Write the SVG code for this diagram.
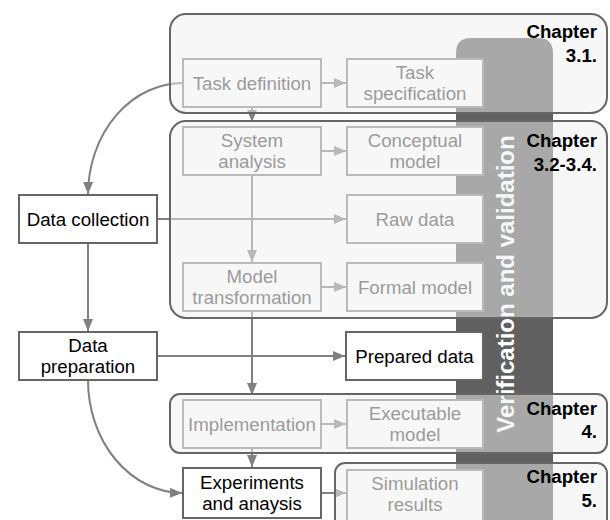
<svg xmlns="http://www.w3.org/2000/svg" width="610" height="520" viewBox="0 0 610 520">
  <style>
    text { font-family: "Liberation Sans", Arial, sans-serif; font-size: 18.7px; text-anchor: middle; }
    .bar { fill: #606060; }
    .vv { font-size: 24px; font-weight: bold; fill: #ffffff; }
    .cn path { fill: none; stroke: #808080; stroke-width: 2; }
    .inner rect { fill: #ffffff; stroke: #858585; stroke-width: 2; }
    .inner text { fill: #444444; }
    .outer rect { fill: #ffffff; stroke: #666666; stroke-width: 2; }
    .outer text { fill: #000000; }
    .chap rect { fill: #efefef; fill-opacity: 0.5; stroke: #666666; stroke-width: 2; }
    .chap text { font-weight: bold; text-anchor: end; fill: #000000; }
  </style>
  <defs>
    <marker id="arrow" markerUnits="userSpaceOnUse" markerWidth="12" markerHeight="10" refX="12" refY="5" orient="auto">
      <path d="M0,0 L12,5 L0,10 z" fill="#808080"/>
    </marker>
  </defs>

  <!-- verification & validation band behind everything -->
  <g id="vv-band">
    <path class="bar" d="M456,53 Q456,38 471,38 H538 Q553,38 553,53 V530 H456 z"/>
    <text class="vv" transform="translate(514,284) rotate(-90)">Verification and validation</text>
  </g>

  <!-- connectors (drawn beneath the chapter panels so they fade inside them) -->
  <g id="connectors" class="cn">
    <path d="M321,83 H346" marker-end="url(#arrow)"/>
    <path d="M252,107 V122" marker-end="url(#arrow)"/>
    <path d="M321,151 H346" marker-end="url(#arrow)"/>
    <path d="M252,175 V262" marker-end="url(#arrow)"/>
    <path d="M183,83 A95,112 0 0 0 88,194" marker-end="url(#arrow)"/>
    <path d="M157,219 H346" marker-end="url(#arrow)"/>
    <path d="M88,243 V331" marker-end="url(#arrow)"/>
    <path d="M321,287 H346" marker-end="url(#arrow)"/>
    <path d="M252,311 V395" marker-end="url(#arrow)"/>
    <path d="M157,356 H345" marker-end="url(#arrow)"/>
    <path d="M321,424 H346" marker-end="url(#arrow)"/>
    <path d="M252,448 V467" marker-end="url(#arrow)"/>
    <path d="M88,380 A95,113 0 0 0 182,493" marker-end="url(#arrow)"/>
    <path d="M321,493 H346" marker-end="url(#arrow)"/>
  </g>

  <!-- steps inside the chapter panels -->
  <g id="task-definition" class="inner">
    <rect x="183" y="59" width="138" height="48"/>
    <text x="252" y="89.8">Task definition</text>
  </g>
  <g id="task-specification" class="inner">
    <rect x="347" y="59" width="136" height="48"/>
    <text x="415" y="79.3">Task</text>
    <text x="415" y="100.3">specification</text>
  </g>
  <g id="system-analysis" class="inner">
    <rect x="183" y="127" width="138" height="48"/>
    <text x="252" y="147.3">System</text>
    <text x="252" y="168.3">analysis</text>
  </g>
  <g id="conceptual-model" class="inner">
    <rect x="347" y="127" width="136" height="48"/>
    <text x="415" y="147.3">Conceptual</text>
    <text x="415" y="168.3">model</text>
  </g>
  <g id="raw-data" class="inner">
    <rect x="347" y="195" width="136" height="48"/>
    <text x="415" y="225.8">Raw data</text>
  </g>
  <g id="model-transformation" class="inner">
    <rect x="183" y="263" width="138" height="48"/>
    <text x="252" y="283.3">Model</text>
    <text x="252" y="304.3">transformation</text>
  </g>
  <g id="formal-model" class="inner">
    <rect x="347" y="263" width="136" height="48"/>
    <text x="415" y="293.8">Formal model</text>
  </g>
  <g id="implementation" class="inner">
    <rect x="183" y="400" width="138" height="48"/>
    <text x="252" y="430.8">Implementation</text>
  </g>
  <g id="executable-model" class="inner">
    <rect x="347" y="400" width="136" height="48"/>
    <text x="415" y="420.3">Executable</text>
    <text x="415" y="441.3">model</text>
  </g>
  <g id="simulation-results" class="inner">
    <rect x="347" y="470" width="136" height="54"/>
    <text x="415" y="489.8">Simulation</text>
    <text x="415" y="510.8">results</text>
  </g>

  <!-- chapter panels: translucent wash over their steps -->
  <g id="chapter-3-1" class="chap">
    <rect x="170" y="14" width="437" height="99" rx="16"/>
    <text x="597" y="38">Chapter</text>
    <text x="597" y="62">3.1.</text>
  </g>
  <g id="chapter-3-2" class="chap">
    <rect x="170" y="121" width="437" height="197" rx="16"/>
    <text x="597" y="147">Chapter</text>
    <text x="597" y="171">3.2-3.4.</text>
  </g>
  <g id="chapter-4" class="chap">
    <rect x="170" y="394" width="437" height="59" rx="10"/>
    <text x="597" y="415">Chapter</text>
    <text x="597" y="438">4.</text>
  </g>
  <g id="chapter-5" class="chap">
    <rect x="335" y="463" width="272" height="80" rx="10"/>
    <text x="597" y="483">Chapter</text>
    <text x="597" y="507">5.</text>
  </g>

  <!-- data-side steps -->
  <g id="data-collection" class="outer">
    <rect x="19" y="195" width="138" height="48"/>
    <text x="88" y="225.8">Data collection</text>
  </g>
  <g id="data-preparation" class="outer">
    <rect x="19" y="332" width="138" height="48"/>
    <text x="88" y="352.3">Data</text>
    <text x="88" y="373.3">preparation</text>
  </g>
  <g id="prepared-data" class="outer">
    <rect x="346" y="332" width="137" height="48"/>
    <text x="414.5" y="362.8">Prepared data</text>
  </g>
  <g id="experiments" class="outer">
    <rect x="183" y="468" width="138" height="50"/>
    <text x="252" y="489.3">Experiments</text>
    <text x="252" y="510.3">and anaysis</text>
  </g>
</svg>
